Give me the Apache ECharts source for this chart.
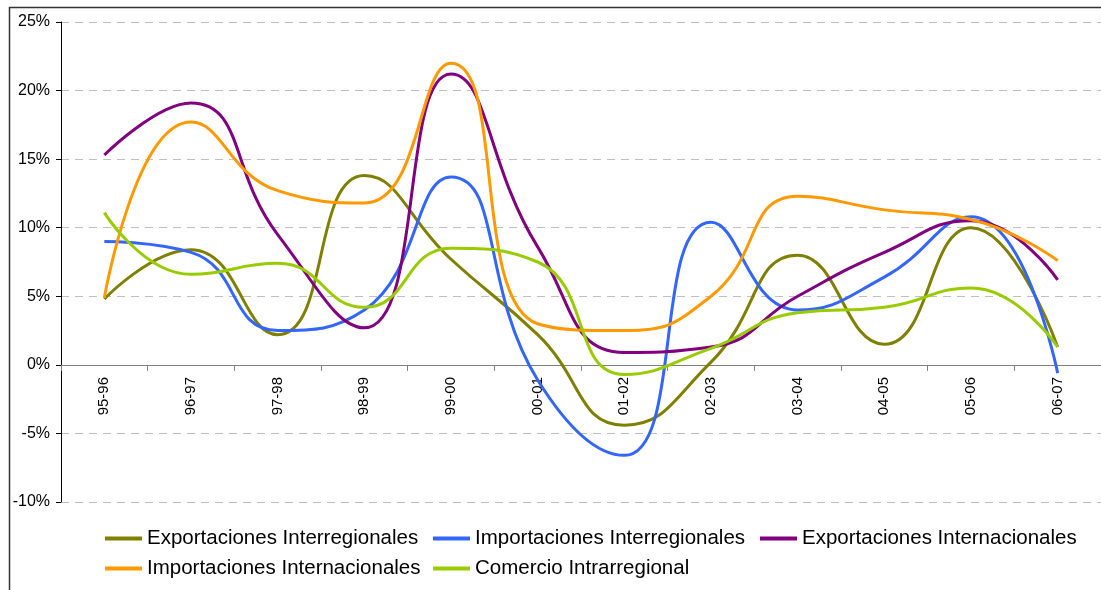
<!DOCTYPE html>
<html><head><meta charset="utf-8">
<script src="https://cdn.jsdelivr.net/npm/echarts@6/dist/echarts.min.js"></script>
<style>html,body{margin:0;padding:0;background:#fff}#c{width:1101px;height:590px}</style>
</head><body><div id="c"></div>
<script>
var categories = ['95-96','96-97','97-98','98-99','99-00','00-01','01-02','02-03','03-04','04-05','05-06','06-07'];
var expInterreg = [4.8, 8.4, 2.2, 13.8, 7.7, 2.2, -4.4, 0.2, 8.0, 1.5, 10.0, 1.3];
var impInterreg = [9.0, 8.2, 2.5, 4.0, 13.7, -1.1, -6.6, 10.4, 4.0, 6.4, 10.8, -0.6];
var expInternac = [15.3, 19.1, 9.5, 2.7, 21.2, 8.6, 0.9, 1.3, 5.0, 8.2, 10.5, 6.2];
var impInternac = [4.9, 17.7, 12.7, 11.8, 22.0, 3.0, 2.5, 5.0, 12.3, 11.3, 10.6, 7.6];
var comIntra = [11.1, 6.6, 7.4, 4.2, 8.5, 7.5, -0.7, 1.2, 3.8, 4.2, 5.6, 1.3];
var seriesNames = ['Exportaciones Interregionales','Importaciones Interregionales','Exportaciones Internacionales','Importaciones Internacionales','Comercio Intrarregional'];
var seriesData = [expInterreg, impInterreg, expInternac, impInternac, comIntra];
var colors = ['#808000','#3366FF','#800080','#FF9900','#99CC00'];

var chart = echarts.init(document.getElementById('c'));
var legendPos = [[100,523],[428,523],[755,523],[100,553],[428,553]];
var legends = seriesNames.map(function(n,i){
  return {data:[n], left:legendPos[i][0], top:legendPos[i][1], itemWidth:37, itemHeight:4, icon:'rect',
    textStyle:{fontFamily:'Liberation Sans, Arial', fontSize:20.5, color:'#000'}, selectedMode:false};
});
chart.setOption({
  animation:false,
  color: colors,
  graphic:[{type:'rect', shape:{x:9.5,y:7.5,width:1200,height:700}, style:{fill:'none',stroke:'#333',lineWidth:1.5}, z:-1}],
  grid:{left:61, top:22, width:1048, height:480},
  legend: legends,
  xAxis:[{type:'category', data:categories, boundaryGap:true,
    axisLine:{onZero:true, lineStyle:{color:'#808080', width:1}},
    axisTick:{show:true, length:6, lineStyle:{color:'#808080'}},
    axisLabel:{show:false}
  },{type:'category', data:categories, boundaryGap:true, position:'bottom', offset:-137,
    axisLine:{show:false}, axisTick:{show:false},
    axisLabel:{rotate:90, fontFamily:'Liberation Sans, Arial', fontSize:15, color:'#000', margin:12}
  }],
  yAxis:{type:'value', min:-10, max:25, interval:5,
    axisLine:{show:true, lineStyle:{color:'#000', width:1}},
    axisTick:{show:true, length:5, lineStyle:{color:'#000'}},
    axisLabel:{formatter:'{value}%', fontFamily:'Liberation Sans, Arial', fontSize:16, color:'#000', margin:11},
    splitLine:{show:true, lineStyle:{color:'#c0c0c0', type:[8,6], width:1}}
  },
  series: seriesNames.map(function(n,i){
    return {name:n, type:'line', xAxisIndex:0, data:seriesData[i], smooth:0.5, symbol:'none',
      lineStyle:{width:3, color:colors[i]}, itemStyle:{color:colors[i]}};
  })
});
</script></body></html>
